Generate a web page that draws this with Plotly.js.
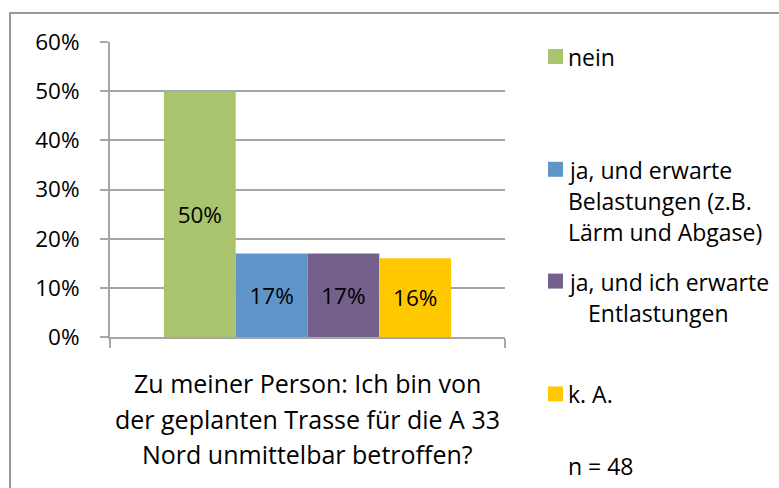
<!DOCTYPE html>
<html>
<head>
<meta charset="utf-8">
<script src="https://cdn.plot.ly/plotly-3.0.1.min.js"></script>
<style>html,body{margin:0;padding:0;background:#fff;}#chart{width:779px;height:488px;}</style>
</head>
<body>
<div id="chart"></div>
<script>
// ---- data ----
const categoryLines = ['Zu meiner Person: Ich bin von', 'der geplanten Trasse für die A 33', 'Nord unmittelbar betroffen?'];
const category = categoryLines.join(' ');
const seriesNames = ['nein', 'ja, und erwarte Belastungen (z.B. Lärm und Abgase)', 'ja, und ich erwarte Entlastungen', 'k. A.'];
const legendLines = [['nein'], ['ja, und erwarte', 'Belastungen (z.B.', 'Lärm und Abgase)'], ['ja, und ich erwarte', 'Entlastungen'], ['k. A.']];
const seriesValues = [0.50, 0.17, 0.17, 0.16];
const seriesColors = ['#A9C46C', '#5F95C9', '#74608D', '#FFC800'];
const yTickVals = [0, 0.1, 0.2, 0.3, 0.4, 0.5, 0.6];
const sampleNote = 'n = 48';

// ---- layout helpers ----
const W = 779, H = 488;
const PL = 110, PR = 505, PT = 42, PB = 337.5;
const px = x => (x - PL) / (PR - PL);
const py = y => (PB - y) / (PB - PT);
const FONT = '"Open Sans", "Noto Sans", sans-serif';
const FS_TICK = 22.5, FS_LEG = 23, FS_TITLE = 25;
const GRID = '#A6A6A6';

const traces = seriesNames.map((name, i) => ({
  type: 'bar',
  name: name,
  x: [category],
  y: [seriesValues[i]],
  marker: {color: seriesColors[i], line: {width: 0}},
  texttemplate: '%{y:.0%}',
  textposition: 'inside',
  insidetextanchor: 'middle',
  textfont: {family: FONT, size: FS_TICK, color: '#000'},
  hoverinfo: 'skip'
}));

const annotations = [];
const shapes = [];
const legendFirstY = [57, 170, 282, 395];
const legendLineGap = 31;
legendLines.forEach((lines, i) => {
  const y0 = legendFirstY[i];
  shapes.push({type: 'rect', xref: 'paper', yref: 'paper',
    x0: px(548), x1: px(563), y0: py(y0 - 8), y1: py(y0 + 7),
    fillcolor: seriesColors[i], line: {width: 0}});
  lines.forEach((t, j) => {
    annotations.push({xref: 'paper', yref: 'paper', x: px(566 + (i === 2 && j > 0 ? 20 : 0)), y: py(y0 + j * legendLineGap),
      xanchor: 'left', yanchor: 'middle', showarrow: false, text: t, align: 'left',
      font: {family: FONT, size: FS_LEG, color: '#000'}});
  });
});
annotations.push({xref: 'paper', yref: 'paper', x: px(566), y: py(467), xanchor: 'left', yanchor: 'middle',
  showarrow: false, text: sampleNote, font: {family: FONT, size: FS_LEG, color: '#000'}});

const titleY = [384, 420, 455];
categoryLines.forEach((t, j) => {
  annotations.push({xref: 'paper', yref: 'paper', x: px(307.5), y: py(titleY[j]), xanchor: 'center', yanchor: 'middle',
    showarrow: false, text: t, font: {family: FONT, size: FS_TITLE, color: '#000'}});
});

// outer border (left and top edges visible)
shapes.push({type: 'line', xref: 'paper', yref: 'paper', x0: px(10), x1: px(10), y0: py(12), y1: py(H + 2), line: {color: '#999', width: 2}});
shapes.push({type: 'line', xref: 'paper', yref: 'paper', x0: px(9), x1: px(W + 2), y0: py(13), y1: py(13), line: {color: '#999', width: 2}});

const layout = {
  width: W, height: H,
  margin: {l: PL, r: W - PR, t: PT, b: H - PB, pad: 0},
  paper_bgcolor: '#fff', plot_bgcolor: '#fff',
  showlegend: false,
  barmode: 'group',
  bargap: 0.273,
  bargroupgap: 0,
  font: {family: FONT, size: FS_TICK, color: '#000'},
  xaxis: {
    type: 'category', showticklabels: false, tickson: 'boundaries', ticks: 'outside', ticklen: 9,
    tickcolor: GRID, tickwidth: 2, showline: true, linecolor: GRID, linewidth: 2, showgrid: false, fixedrange: true
  },
  yaxis: {
    range: [0, 0.6], tickvals: yTickVals, tickformat: '.0%', ticks: 'outside', ticklen: 8, tickwidth: 2,
    tickcolor: GRID, showline: true, linecolor: GRID, linewidth: 2, showgrid: true, gridcolor: GRID, gridwidth: 2,
    zeroline: false, ticklabelstandoff: 16, tickfont: {family: FONT, size: FS_TICK, color: '#000'}, fixedrange: true
  },
  shapes: shapes,
  annotations: annotations
};

Plotly.newPlot('chart', traces, layout, {displayModeBar: false, staticPlot: true});
</script>
</body>
</html>
